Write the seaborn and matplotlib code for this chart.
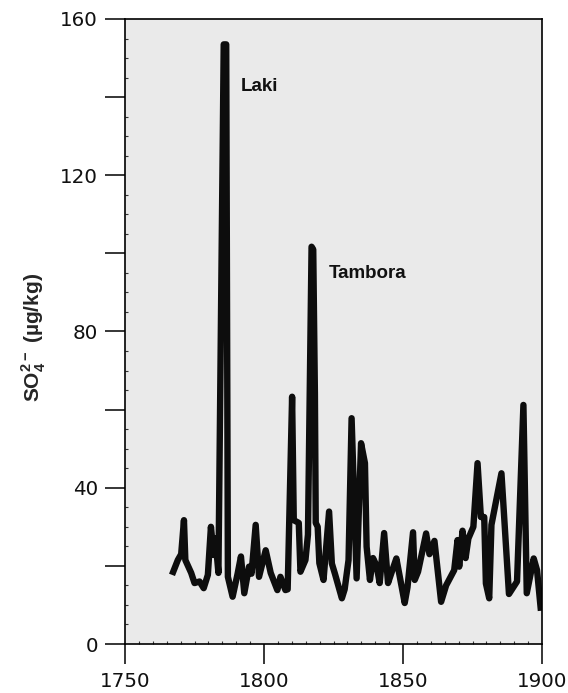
import numpy as np
import pandas as pd
import matplotlib
matplotlib.use("Agg")
import matplotlib.pyplot as plt
import seaborn as sns
from matplotlib.ticker import MultipleLocator, FuncFormatter

years = [1766.9, 1769.0, 1770.2, 1771.2, 1771.7, 1773.8, 1775.0, 1776.8, 1778.3, 1779.8,
         1780.9, 1781.9, 1782.5, 1783.6, 1785.5, 1786.4, 1787.0, 1788.7, 1790.5, 1791.7,
         1792.9, 1794.6, 1795.5, 1797.0, 1798.2, 1800.6, 1802.4, 1804.8, 1805.9, 1807.7,
         1808.5, 1810.1, 1810.7, 1812.5, 1813.1, 1814.9, 1815.8, 1817.1, 1817.7, 1818.3,
         1818.6, 1819.3, 1819.9, 1821.4, 1823.4, 1824.4, 1825.5, 1828.0, 1829.0, 1830.4,
         1831.5, 1833.3, 1834.9, 1836.3, 1836.9, 1838.1, 1839.2, 1840.5, 1841.6, 1843.2,
         1844.6, 1846.2, 1847.6, 1850.6, 1851.6, 1853.6, 1854.2, 1855.4, 1858.3, 1859.5,
         1861.3, 1863.7, 1865.5, 1868.4, 1869.6, 1870.2, 1871.4, 1872.5, 1873.5, 1875.3,
         1876.8, 1878.0, 1879.2, 1879.8, 1881.0, 1881.8, 1885.4, 1888.1, 1891.0, 1893.3,
         1894.5, 1897.0, 1898.2, 1899.6]
sulfate = [17.7, 21.5, 23.0, 31.7, 21.5, 18.2, 15.6, 16.0, 14.3, 17.7,
           30.0, 22.8, 27.0, 18.2, 153.5, 153.5, 17.2, 12.1, 18.0, 22.4,
           13.0, 19.8, 18.0, 30.5, 17.2, 24.0, 18.2, 13.8, 17.2, 13.8,
           14.0, 63.3, 31.7, 31.0, 18.5, 21.5, 28.0, 101.7, 101.0, 64.0,
           31.0, 30.0, 20.7, 16.4, 33.9, 20.6, 18.0, 11.7, 14.0, 21.5,
           57.8, 16.8, 51.4, 46.3, 24.9, 16.4, 22.0, 20.0, 15.6, 28.4,
           15.6, 19.0, 21.9, 10.5, 14.5, 28.6, 16.4, 18.5, 28.3, 23.0,
           26.4, 10.8, 15.0, 18.9, 26.6, 19.8, 29.0, 22.0, 27.0, 30.0,
           46.3, 32.5, 32.5, 15.5, 11.7, 30.5, 43.7, 12.8, 16.0, 61.2,
           13.0, 21.9, 18.9, 8.5]

event_names = ["Laki", "Tambora"]
event_years = [1791.8, 1823.2]
event_values = [141.6, 93.7]

x_ticks = [1750, 1800, 1850, 1900]
y_labeled = [0, 40, 80, 120, 160]

df = pd.DataFrame({"year": years, "so4": sulfate})

sns.set_theme(style="ticks")
plt.rcParams["font.family"] = ["DejaVu Sans"]
plt.rcParams["mathtext.fontset"] = "custom"
plt.rcParams["mathtext.bf"] = "Liberation Sans:bold"
plt.rcParams["mathtext.rm"] = "Liberation Sans:bold"

fig = plt.figure(figsize=(5.68, 6.93), dpi=100)
ax = fig.add_axes([0.2201, 0.0707, 0.7342, 0.9019])
ax.set_facecolor("#eaeaea")

sns.lineplot(data=df, x="year", y="so4", ax=ax, color="#0d0d0d", linewidth=4.6,
             solid_joinstyle="round", solid_capstyle="butt", clip_on=True)

ax.set_xlim(1750, 1900)
ax.set_ylim(0, 160)
ax.set_xticks(x_ticks)
ax.yaxis.set_major_locator(MultipleLocator(20))
ax.yaxis.set_major_formatter(FuncFormatter(lambda v, p: f"{int(round(v))}" if int(round(v)) in y_labeled else ""))
ax.yaxis.set_minor_locator(MultipleLocator(5))
ax.xaxis.set_minor_locator(MultipleLocator(5))

ax.tick_params(axis="both", which="major", direction="out", length=14.5, width=1.1,
               color="black", labelsize=14.3, labelcolor="#111111")
ax.tick_params(axis="y", which="major", pad=5)
ax.tick_params(axis="x", which="major", pad=6)
ax.tick_params(axis="both", which="minor", direction="in", length=2.5, width=0.8, color="#333333")

for s in ax.spines.values():
    s.set_color("black")
    s.set_linewidth(1.2)
    s.set_visible(True)

ax.set_xlabel("")
ax.set_ylabel(r"SO$_\mathbf{4}^\mathbf{2-}$ (µg/kg)", fontsize=15, fontweight="bold",
              family=["Liberation Sans", "DejaVu Sans"])
ax.yaxis.set_label_coords(-0.185, 0.49)

for name, xv, yv in zip(event_names, event_years, event_values):
    ax.text(xv, yv, name, fontsize=13.5, fontweight="bold",
            family=["Liberation Sans", "DejaVu Sans"], ha="left", va="baseline", color="#111111")

fig.savefig("out.png", dpi=100, facecolor="white")
